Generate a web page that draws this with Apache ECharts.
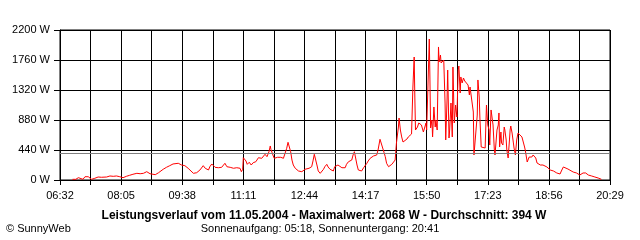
<!DOCTYPE html>
<html>
<head>
<meta charset="utf-8">
<script src="https://cdn.jsdelivr.net/npm/echarts@6/dist/echarts.min.js"></script>
<style>
html,body{margin:0;padding:0;background:#fff;}
#chart{width:640px;height:240px;}
</style>
</head>
<body>
<div id="chart"></div>
<script>
const tickLabels = ['06:32','08:05','09:38','11:11','12:44','14:17','15:50','17:23','18:56','20:29'];
const avgWatts = 394;
const titleText = 'Leistungsverlauf vom 11.05.2004 - Maximalwert: 2068 W - Durchschnitt: 394 W';
const subText = 'Sonnenaufgang: 05:18, Sonnenuntergang: 20:41';
const copyText = '\u00A9 SunnyWeb';

const times = [
'06:51','06:56','07:00','07:02','07:07','07:10','07:15','07:18','07:20','07:23','07:25','07:30','07:33','07:35','07:38','07:43','07:48','07:53','07:58','08:03',
'08:06','08:08','08:13','08:18','08:23','08:29','08:31','08:34','08:39','08:41','08:44','08:46','08:49','08:52','08:57','08:59','09:02','09:04','09:09','09:14',
'09:19','09:24','09:27','09:32','09:37','09:42','09:47','09:50','09:55','09:57','10:00','10:05','10:10','10:13','10:15','10:18','10:20','10:23','10:25','10:28',
'10:30','10:33','10:35','10:38','10:40','10:43','10:46','10:48','10:51','10:56','11:01','11:06','11:08','11:10','11:11','11:12','11:15','11:17','11:20','11:23',
'11:26','11:30','11:34','11:36','11:39','11:42','11:44','11:47','11:48','11:50','11:52','11:53','11:56','11:58','12:01','12:03','12:06','12:08','12:12','12:14',
'12:17','12:19','12:21','12:23','12:25','12:27','12:30','12:35','12:40','12:45','12:48','12:51','12:55','12:57','12:59','13:00','13:03','13:05','13:08','13:13',
'13:15','13:18','13:20','13:23','13:28','13:30','13:35','13:38','13:41','13:46','13:48','13:51','13:53','13:56','13:58','14:00','14:01','14:04','14:06','14:09',
'14:11','14:14','14:16','14:19','14:21','14:24','14:26','14:29','14:31','14:34','14:36','14:39','14:40','14:42','14:44','14:47','14:49','14:52','14:54','14:57',
'14:59','15:02','15:04','15:07','15:08','15:10','15:12','15:14','15:17','15:20','15:22','15:25','15:27','15:29','15:31','15:32','15:33','15:36','15:38','15:40',
'15:42','15:45','15:47','15:49','15:50','15:52','15:54','15:55','15:56','15:58','15:59','16:01','16:03','16:04','16:06','16:08','16:09','16:11','16:12','16:14',
'16:16','16:18','16:19','16:21','16:22','16:24','16:25','16:27','16:29','16:30','16:32','16:34','16:36','16:38','16:39','16:41','16:42','16:44','16:46','16:48',
'16:51','16:53','16:55','16:56','16:58','17:01','17:02','17:05','17:07','17:08','17:10','17:11','17:13','17:14','17:16','17:19','17:21','17:23','17:25','17:26',
'17:28','17:30','17:31','17:33','17:34','17:37','17:39','17:40','17:41','17:43','17:44','17:46','17:48','17:49','17:51','17:52','17:54','17:56','17:57','17:58',
'18:00','18:02','18:03','18:05','18:07','18:09','18:12','18:15','18:19','18:20','18:23','18:25','18:26','18:28','18:30','18:32','18:34','18:36','18:38','18:41',
'18:43','18:47','18:53','18:55','18:58','19:03','19:08','19:13','19:15','19:18','19:20','19:25','19:28','19:33','19:38','19:43','19:48','19:52','19:56','20:01',
'20:06','20:11','20:16'
];
const watts = [
10,10,34,10,10,48,48,34,10,10,25,44,25,40,25,44,59,54,59,48,
25,34,54,69,84,98,113,92,98,113,122,103,92,107,78,69,107,132,157,186,
210,235,254,245,220,210,172,172,98,73,107,147,210,172,186,147,195,235,245,186,
195,180,200,186,210,245,195,180,186,172,180,172,122,157,327,304,279,230,260,220,
254,268,327,333,318,333,377,342,318,415,499,450,367,318,293,333,308,333,318,304,
465,553,538,415,293,220,172,132,122,157,180,172,195,279,377,352,220,132,98,157,
195,230,191,157,132,195,220,230,180,180,230,268,254,293,367,415,367,220,147,122,
132,180,172,245,279,318,333,352,352,367,440,597,620,597,440,342,245,195,205,230,
254,293,543,777,909,733,631,557,543,601,631,645,675,1349,1804,1217,733,777,836,865,
807,704,733,836,733,1393,2068,1467,763,880,631,1071,777,880,733,1951,1731,1833,1716,1731,
1760,1129,587,1173,1613,616,733,1129,631,1657,836,1100,924,1613,1672,1276,1511,1423,1496,1452,
1423,1393,1247,1364,1217,997,367,396,953,1467,1217,909,484,469,484,469,1100,807,733,513,
1027,880,807,440,367,733,807,983,484,704,543,513,777,733,587,440,323,587,733,792,
689,543,469,367,587,689,704,631,484,440,264,293,337,308,337,367,396,323,249,235,
220,220,191,176,147,132,103,88,132,191,176,161,132,117,103,73,103,103,73,59,
44,29,10
];

function toMin(t){ const p = t.split(':'); return (+p[0])*60 + (+p[1]); }
const t0 = toMin(tickLabels[0]);
const span = toMin(tickLabels[tickLabels.length-1]) - t0;
const step = span / (tickLabels.length - 1) / 2;
const seriesData = times.map((t,i) => [toMin(t) - t0, watts[i]]);

const FONT = 'Liberation Sans, Arial, sans-serif';
const chart = echarts.init(document.getElementById('chart'), null, {renderer:'canvas'});
chart.setOption({
  animation: false,
  backgroundColor: '#ffffff',
  grid: {left:60, right:30, top:30, bottom:60, show:true, borderColor:'#000', borderWidth:1, backgroundColor:'#fff'},
  xAxis: {
    type:'value', min:0, max:span, interval:step,
    axisLine:{show:true, lineStyle:{color:'#000', width:1}},
    axisTick:{show:true, length:5, lineStyle:{color:'#000', width:1}},
    splitLine:{show:true, lineStyle:{color:'#000', width:1}},
    axisLabel:{
      show:true, showMinLabel:true, showMaxLabel:true, color:'#000', fontSize:11, fontFamily:FONT, margin:10,
      formatter: function(v){ const k = Math.round(v/step); return k % 2 === 0 ? tickLabels[k/2] : ''; }
    }
  },
  yAxis: {
    type:'value', min:0, max:2200, interval:440,
    axisLine:{show:true, lineStyle:{color:'#000', width:1}},
    axisTick:{show:true, length:6, lineStyle:{color:'#000', width:1}},
    splitLine:{show:true, lineStyle:{color:'#000', width:1}},
    axisLabel:{color:'#000', fontSize:11, fontFamily:FONT, margin:10, formatter: function(v){ return v + ' W'; }}
  },
  series: [{
    type:'line', data: seriesData, symbol:'none', showSymbol:false, smooth:false,
    lineStyle:{color:'#ff0000', width:1}, itemStyle:{color:'#ff0000'},
    markLine:{silent:true, symbol:'none', label:{show:false}, animation:false,
      lineStyle:{color:'#808080', type:'solid', width:1}, data:[{yAxis: avgWatts}]}
  }],
  graphic: [
    {type:'text', x:324, y:216, style:{text:titleText, font:'bold 12px '+FONT, fill:'#000', align:'center', verticalAlign:'middle', textAlign:'center', textVerticalAlign:'middle'}},
    {type:'text', x:320, y:229, style:{text:subText, font:'11px '+FONT, fill:'#000', align:'center', verticalAlign:'middle', textAlign:'center', textVerticalAlign:'middle'}},
    {type:'text', x:6, y:229, style:{text:copyText, font:'11px '+FONT, fill:'#000', align:'left', verticalAlign:'middle', textAlign:'left', textVerticalAlign:'middle'}}
  ]
});
</script>
</body>
</html>
